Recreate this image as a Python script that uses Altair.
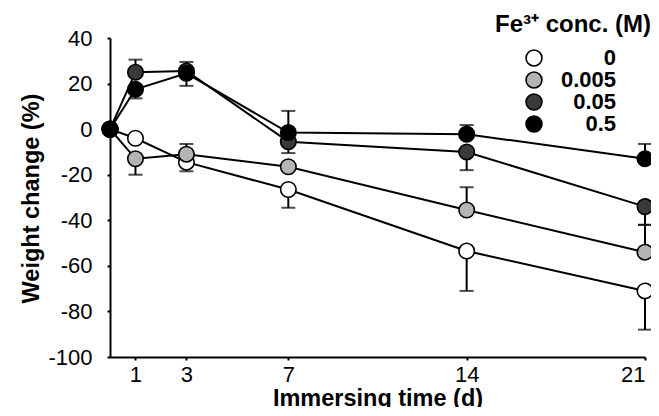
import altair as alt
import pandas as pd

days = [0, 1, 3, 7, 14, 21]
concs = ["0", "0.005", "0.05", "0.5"]
fills = ["#ffffff", "#b4b4b4", "#3a3a3a", "#000000"]

w_0 = [0, -4, -14.5, -26.5, -53.5, -71]
w_0_lo = [0, 0, 4, 8, 17.5, 17]
w_0_hi = [0, 0, 0, 0, 0, 0]

w_005 = [0, -13, -11, -16.5, -35.5, -54]
w_005_lo = [0, 7, 0, 0, 0, 0]
w_005_hi = [0, 0, 4.5, 0, 10, 12]

w_05 = [0, 25, 25.5, -5.5, -10, -34]
w_05_lo = [0, 0, 0, 5, 8, 8]
w_05_hi = [0, 5.5, 4, 0, 0, 0]

w_5 = [0, 17.5, 24.5, -1.5, -2.2, -13]
w_5_lo = [0, 4, 5.5, 0, 0, 0]
w_5_hi = [0, 0, 0, 9.5, 4, 6.5]

x_ticks = [1, 3, 7, 14, 21]
y_ticks = [-100, -80, -60, -40, -20, 0, 20, 40]

series = [
    (concs[0], w_0, w_0_lo, w_0_hi),
    (concs[1], w_005, w_005_lo, w_005_hi),
    (concs[2], w_05, w_05_lo, w_05_hi),
    (concs[3], w_5, w_5_lo, w_5_hi),
]

rows = []
for k, (c, vals, lo, hi) in enumerate(series):
    for d, v, l, h in zip(days, vals, lo, hi):
        rows.append({"day": d, "w": v, "conc": c, "order": k,
                     "lo": v - l, "hi": v + h, "has_lo": l > 0, "has_hi": h > 0})
df = pd.DataFrame(rows)

FONT = "Liberation Sans"

x_enc = alt.X("day:Q", scale=alt.Scale(domain=[0, 21], nice=False),
              axis=alt.Axis(values=x_ticks, title="Immersing time (d)",
                            titleY=48, titleBaseline="alphabetic", labelPadding=4))
y_enc = alt.Y("w:Q", scale=alt.Scale(domain=[-100, 40], nice=False),
              axis=alt.Axis(values=y_ticks, title="Weight change (%)",
                            labelExpr="replace(datum.label, '\u2212', '-')",
                            titleX=-79, titleY=160, titleAngle=-90, titleBaseline="middle",
                            titleAlign="center", labelPadding=15))

base = alt.Chart(df)

lines = base.mark_line(color="black", strokeWidth=2).encode(
    x=x_enc, y=y_enc, detail="conc:N", order="day:Q")

err_lo = base.transform_filter("datum.has_lo").mark_rule(color="black", strokeWidth=2).encode(
    x="day:Q", y="w:Q", y2="lo:Q")
err_hi = base.transform_filter("datum.has_hi").mark_rule(color="black", strokeWidth=2).encode(
    x="day:Q", y="w:Q", y2="hi:Q")
cap_lo = base.transform_filter("datum.has_lo").mark_tick(
    orient="horizontal", color="black", size=14, thickness=2).encode(x="day:Q", y="lo:Q")
cap_hi = base.transform_filter("datum.has_hi").mark_tick(
    orient="horizontal", color="black", size=14, thickness=2).encode(x="day:Q", y="hi:Q")

points = base.mark_point(filled=True, shape="circle", size=240, stroke="black",
                         strokeWidth=1.6, opacity=1).encode(
    x="day:Q", y="w:Q",
    fill=alt.Fill("conc:N", scale=alt.Scale(domain=concs, range=fills),
                  legend=alt.Legend(title="Fe³⁺ conc. (M)", orient="none",
                                    legendX=385, legendY=-25)),
    order="order:Q")

chart = alt.layer(lines, err_lo, err_hi, cap_lo, cap_hi, points).properties(
    width=535, height=319,
    autosize=alt.AutoSizeParams(type="none"),
    padding={"left": 102, "top": 30, "right": 6, "bottom": 50},
).configure_view(stroke=None).configure_axis(
    labelFont=FONT, labelFontSize=22, labelColor="black",
    titleFont=FONT, titleFontSize=23.5, titleFontWeight="bold", titleColor="black",
    domainColor="black", domainWidth=2, tickColor="black", tickSize=3, tickWidth=2,
    grid=False,
).configure_legend(
    titleFont=FONT, titleFontSize=24, titleFontWeight="bold", titleColor="black",
    titleAnchor="start",
    labelFont=FONT, labelFontSize=22, labelFontWeight="bold", labelColor="black",
    labelAlign="right", labelOffset=71, symbolOffset=28,
    symbolSize=254, symbolStrokeColor="black", symbolStrokeWidth=1.6,
    symbolType="circle", rowPadding=0, clipHeight=22, titlePadding=10,
)

chart.save("out.html", embed_options={"renderer": "svg", "actions": False})
